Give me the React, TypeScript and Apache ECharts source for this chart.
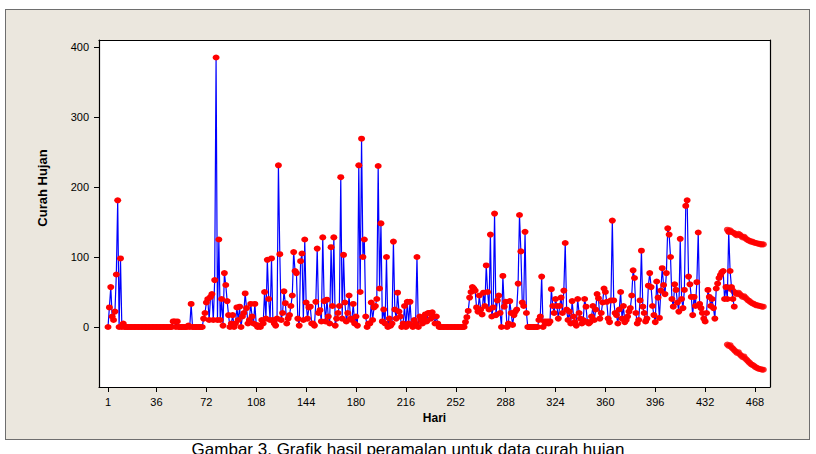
import React, { useEffect, useRef } from "react";
import * as echarts from "echarts";

// Curah hujan harian (hari 1..453)
const rain: number[] = [
  0, 28, 57, 15, 10, 22, 75, 181, 0, 98,
  0, 5, 0, 0, 0, 0, 0, 0, 0, 0,
  0, 0, 0, 0, 0, 0, 0, 0, 0, 0,
  0, 0, 0, 0, 0, 0, 0, 0, 0, 0,
  0, 0, 0, 0, 0, 0, 0, 8, 8, 0,
  8, 0, 0, 0, 0, 0, 0, 0, 2, 0,
  33, 0, 0, 0, 0, 0, 0, 0, 0, 12,
  20, 35, 40, 10, 43, 47, 10, 67, 385, 10,
  125, 10, 40, 2, 77, 60, 37, 17, 0, 5,
  17, 0, 5, 28, 10, 29, 0, 15, 20, 48,
  27, 5, 10, 33, 15, 5, 33, 3, 0, 2,
  0, 10, 5, 50, 12, 96, 40, 10, 98, 10,
  5, 2, 12, 231, 104, 10, 20, 51, 34, 5,
  12, 17, 30, 45, 107, 80, 77, 12, 2, 94,
  105, 10, 125, 35, 12, 28, 29, 5, 5, 2,
  36, 112, 20, 24, 8, 128, 37, 8, 39, 15,
  5, 114, 30, 128, 2, 12, 20, 30, 214, 12,
  103, 35, 8, 20, 45, 12, 10, 33, 5, 15,
  2, 231, 50, 269, 100, 125, 15, 0, 5, 5,
  35, 10, 28, 30, 40, 230, 55, 148, 8, 25,
  5, 100, 0, 12, 2, 5, 122, 25, 12, 49,
  22, 15, 0, 5, 30, 0, 36, 5, 36, 3,
  0, 10, 5, 100, 0, 15, 10, 5, 12, 18,
  8, 20, 20, 12, 21, 15, 5, 15, 5, 0,
  0, 0, 0, 0, 0, 0, 0, 0, 0, 0,
  0, 0, 0, 0, 0, 0, 0, 0, 7, 14,
  23, 42, 50, 57, 55, 52, 28, 22, 45, 25,
  18, 49, 30, 88, 50, 25, 132, 15, 28, 162,
  17, 38, 45, 20, 0, 73, 29, 36, 0, 5,
  37, 20, 3, 17, 22, 25, 62, 160, 108, 35,
  30, 136, 20, 0, 0, 0, 0, 0, 0, 0,
  0, 10, 15, 72, 0, 8, 5, 8, 5, 8,
  54, 30, 20, 40, 30, 12, 30, 42, 20, 52,
  120, 25, 10, 22, 5, 37, 15, 7, 2, 40,
  20, 12, 5, 10, 40, 29, 7, 5, 7, 15,
  30, 10, 25, 47, 41, 12, 20, 35, 55, 50,
  36, 12, 7, 38, 152, 38, 20, 17, 5, 25,
  50, 12, 30, 7, 10, 15, 22, 27, 45, 81,
  70, 20, 5, 10, 38, 109, 29, 20, 8, 12,
  59, 77, 57, 30, 17, 7, 65, 42, 13, 52,
  84, 60, 47, 77, 141, 132, 100, 40, 29, 61,
  53, 35, 22, 126, 40, 27, 53, 173, 181, 72,
  61, 43, 17, 43, 30, 64, 135, 33, 27, 20,
  12, 8, 20, 53, 43, 30, 40, 27, 12, 55,
  62, 70, 74, 78, 80, 40, 57, 40, 136, 80,
  57, 40, 29,
];

// Hasil peramalan
const forecastDays: number[] = [
  448, 449, 450, 451, 452, 453, 454, 455, 456, 457, 458, 459, 460, 461,
  462, 463, 464, 465, 466, 467, 468, 469, 470, 471, 472, 473, 474,
];
const upperBound: number[] = [
  139, 137, 138, 136, 135, 134, 132, 131, 133, 132, 130, 128, 129, 127,
  125, 124, 123, 122, 122, 121, 120, 120, 119, 119, 118, 118, 118,
];
const forecastValues: number[] = [
  57, 55, 56, 54, 52, 50, 48, 47, 49, 47, 45, 43, 44, 42,
  40, 38, 37, 35, 34, 33, 32, 31, 31, 30, 30, 29, 29,
];
const lowerBound: number[] = [
  -25, -27, -26, -29, -31, -33, -35, -37, -36, -39, -41, -43, -42, -45,
  -47, -49, -51, -53, -54, -55, -57, -58, -59, -60, -60, -61, -61,
];

const xTicks: number[] = [1, 36, 72, 108, 144, 180, 216, 252, 288, 324, 360, 396, 432, 468];
const yTicks: number[] = [0, 100, 200, 300, 400];

const FONT = "'Liberation Sans', Arial, sans-serif";
const X_MIN = -5.5;
const X_MAX = 478.8;
const Y_MIN = -85.7;
const Y_MAX = 410;

export default function App() {
  const ref = useRef<HTMLDivElement>(null);

  useEffect(() => {
    document.body.style.margin = "0";
    const chart = echarts.init(ref.current!, null, { renderer: "svg" });

    const actual = rain.map((v, i) => [i + 1, v]);
    const mk = (vals: number[]) => forecastDays.map((d, i) => [d, vals[i]]);

    const marker = { color: "#ff0000" };
    const boxLine = { show: true, onZero: false, lineStyle: { color: "#000", width: 1.2 } };
    const frameAxis = {
      type: "value" as const,
      axisLine: boxLine,
      axisTick: { show: false },
      axisLabel: { show: false },
      splitLine: { show: false },
    };

    chart.setOption({
      animation: false,
      backgroundColor: "transparent",
      textStyle: { fontFamily: FONT },
      graphic: [
        {
          type: "text",
          x: 42,
          y: 188,
          rotation: Math.PI / 2,
          style: {
            text: "Curah Hujan",
            fill: "#000",
            font: `bold 13px ${FONT}`,
            align: "center",
            verticalAlign: "middle",
          },
        },
        {
          type: "text",
          x: 408,
          y: 441,
          style: {
            text: "Gambar 3. Grafik hasil peramalan untuk data curah hujan",
            fill: "#000",
            font: `17px ${FONT}`,
            align: "center",
            verticalAlign: "top",
          },
        },
      ],
      grid: {
        left: 99,
        top: 40,
        width: 671,
        height: 347,
        show: false,
        containLabel: false,
      },
      xAxis: [
        {
          type: "value",
          min: X_MIN,
          max: X_MAX,
          position: "bottom",
          name: "Hari",
          nameLocation: "middle",
          nameGap: 24,
          nameTextStyle: { fontWeight: "bold", fontSize: 12, color: "#000", fontFamily: FONT },
          axisLine: boxLine,
          axisTick: { show: true, inside: false, length: 5, customValues: xTicks, lineStyle: { color: "#000" } },
          axisLabel: { customValues: xTicks, margin: 9, color: "#000", fontSize: 11, fontFamily: FONT },
          splitLine: { show: false },
        },
        { ...frameAxis, position: "top", min: X_MIN, max: X_MAX },
      ],
      yAxis: [
        {
          type: "value",
          min: Y_MIN,
          max: Y_MAX,
          position: "left",
          axisLine: boxLine,
          axisTick: { show: true, inside: false, length: 5, customValues: yTicks, lineStyle: { color: "#000" } },
          axisLabel: { customValues: yTicks, margin: 10, color: "#000", fontSize: 11, fontFamily: FONT },
          splitLine: { show: false },
        },
        { ...frameAxis, position: "right", min: Y_MIN, max: Y_MAX },
      ],
      series: [
        {
          type: "line",
          data: actual,
          showAllSymbol: true,
          symbol: "circle",
          symbolSize: [7, 6],
          lineStyle: { color: "#0000ff", width: 1.2 },
          itemStyle: marker,
        },
        {
          type: "scatter",
          data: mk(upperBound),
          symbol: "circle",
          symbolSize: [7, 6],
          itemStyle: marker,
        },
        {
          type: "scatter",
          data: mk(forecastValues),
          symbol: "circle",
          symbolSize: [7, 6],
          itemStyle: marker,
        },
        {
          type: "scatter",
          data: mk(lowerBound),
          symbol: "circle",
          symbolSize: [7, 6],
          itemStyle: marker,
        },
      ],
    });

    return () => chart.dispose();
  }, []);

  return (
    <div style={{ position: "relative", width: 816, height: 454, background: "#ffffff", overflow: "hidden" }}>
      <div
        style={{
          position: "absolute",
          left: 5,
          top: 9,
          width: 803,
          height: 429,
          background: "#ebe7de",
          border: "1.5px solid #6e6e6e",
        }}
      />
      <div
        style={{
          position: "absolute",
          left: 99,
          top: 40,
          width: 671,
          height: 347,
          background: "#ffffff",
        }}
      />
      <div ref={ref} style={{ position: "absolute", left: 0, top: 0, width: 816, height: 454 }} />
    </div>
  );
}
